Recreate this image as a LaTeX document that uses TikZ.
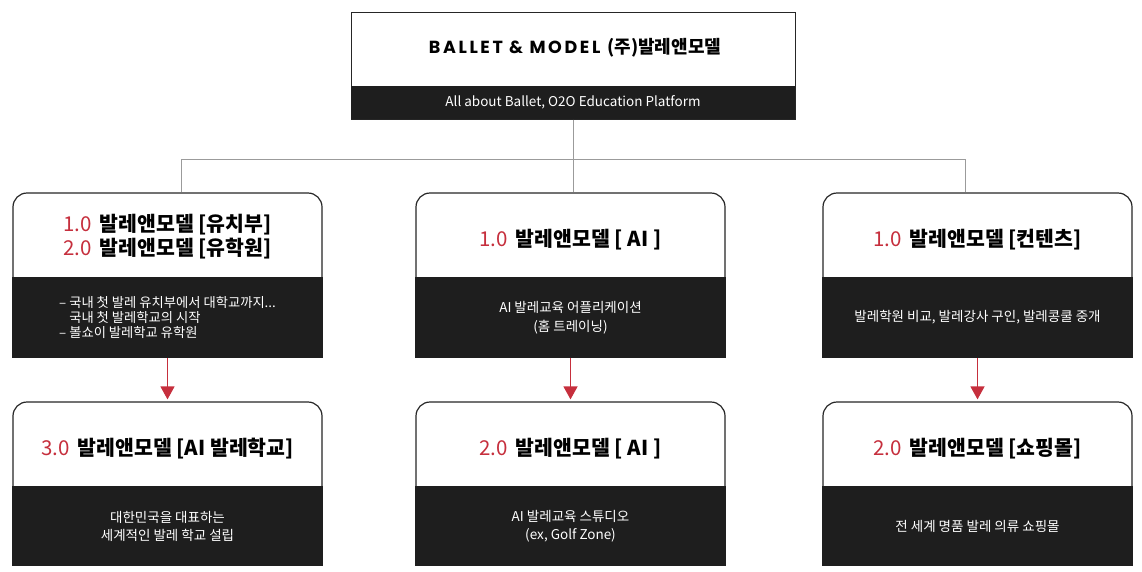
\documentclass[tikz,border=0pt]{standalone}
\usepackage{fontspec}
\setmainfont{Noto Sans CJK KR}
\newfontfamily\brandfont[LetterSpace=15]{Poppins}
\usetikzlibrary{arrows.meta}
\definecolor{bmdark}{HTML}{1E1E1E}
\definecolor{bmred}{HTML}{C62F3D}
\definecolor{bmgray}{HTML}{9B9B9B}
\newcommand\ver[1]{\textcolor{bmred}{\mdseries #1}\hspace{8pt}}
\tikzset{
  card/.style={draw=black!85,line width=1.2pt,fill=white,rounded corners=14pt,
    minimum width=309pt,minimum height=164pt,inner sep=0pt},
  cardbody/.style={draw=bmdark,fill=bmdark,line width=1.2pt,text=white,
    minimum width=309pt,minimum height=79pt,inner sep=0pt,align=center,
    font=\fontsize{13.5}{19}\selectfont},
  head/.style={align=center,font=\bfseries\fontsize{20.5}{24}\selectfont},
  link/.style={draw=bmgray,line width=0.9pt},
  flow/.style={draw=bmred,line width=1.4pt,-{Triangle[width=14pt,length=13pt]},shorten >=2pt}
}
\begin{document}
\begin{tikzpicture}[x=1pt,y=-1pt]
  \useasboundingbox (0,0) rectangle (1142,571);
  %% brand box
  \node[draw=black!85,line width=1pt,minimum width=444pt,minimum height=107pt,inner sep=0pt] (brand) at (573,65.5) {};
  \node[fill=bmdark,text=white,minimum width=444pt,minimum height=33pt,inner sep=0pt,
    font=\fontsize{13.5}{15}\selectfont] (brandsub) at (573,102.5) {All about Ballet, O2O Education Platform};
  \node[font=\bfseries\fontsize{18}{20}\selectfont] (brandname) at (575,48)
    {{\brandfont\fontsize{17.5}{20}\selectfont BALLET \& MODEL}\hspace{7pt}(주)발레앤모델};
  %% first row
  \node[card] (kids) at (167.5,275) {};
  \node[cardbody,align=left,font=\fontsize{13.3}{15}\selectfont] (kidsbody) at (167.5,317.5)
    {– 국내 첫 발레 유치부에서 대학교까지...\\\phantom{– }국내 첫 발레학교의 시작\\– 볼쇼이 발레학교 유학원};
  \node[head] (kidshead) at (167.5,237) {\ver{1.0}발레앤모델 [유치부]\\\ver{2.0}발레앤모델 [유학원]};
  \node[card] (app) at (570.5,275) {};
  \node[cardbody] (appbody) at (570.5,317.5) {AI 발레교육 어플리케이션\\(홈 트레이닝)};
  \node[head] (apphead) at (570.5,240) {\ver{1.0}발레앤모델 [ AI ]};
  \node[card] (content) at (977.5,275) {};
  \node[cardbody] (contentbody) at (977.5,317.5) {발레학원 비교, 발레강사 구인, 발레콩쿨 중개};
  \node[head] (contenthead) at (977.5,240) {\ver{1.0}발레앤모델 [컨텐츠]};
  %% second row
  \node[card,minimum height=163pt] (school) at (167.5,483.5) {};
  \node[cardbody,minimum height=78pt,font=\fontsize{13.5}{18}\selectfont] (schoolbody) at (167.5,526) {대한민국을 대표하는\\세계적인 발레 학교 설립};
  \node[head] (schoolhead) at (167.5,449) {\ver{3.0}발레앤모델 [AI 발레학교]};
  \node[card,minimum height=163pt] (studio) at (570.5,483.5) {};
  \node[cardbody,minimum height=78pt,font=\fontsize{13.5}{18}\selectfont] (studiobody) at (570.5,526) {AI 발레교육 스튜디오\\(ex, Golf Zone)};
  \node[head] (studiohead) at (570.5,449) {\ver{2.0}발레앤모델 [ AI ]};
  \node[card,minimum height=163pt] (shop) at (977.5,483.5) {};
  \node[cardbody,minimum height=78pt] (shopbody) at (977.5,526) {전 세계 명품 발레 의류 쇼핑몰};
  \node[head] (shophead) at (977.5,449) {\ver{2.0}발레앤모델 [쇼핑몰]};
  %% links
  \coordinate (hub) at ([yshift=-40pt]brand.south);
  \draw[link] (brand.south) -- (hub);
  \draw[link] (hub) -| ([xshift=13.5pt]kids.north);
  \draw[link] (hub) -| ([xshift=-12.5pt]content.north);
  \draw[link] (hub) -- (hub |- app.north);
  %% arrows
  \draw[flow] (kids.south) -- (school.north);
  \draw[flow] (app.south) -- (studio.north);
  \draw[flow] (content.south) -- (shop.north);
\end{tikzpicture}
\end{document}
